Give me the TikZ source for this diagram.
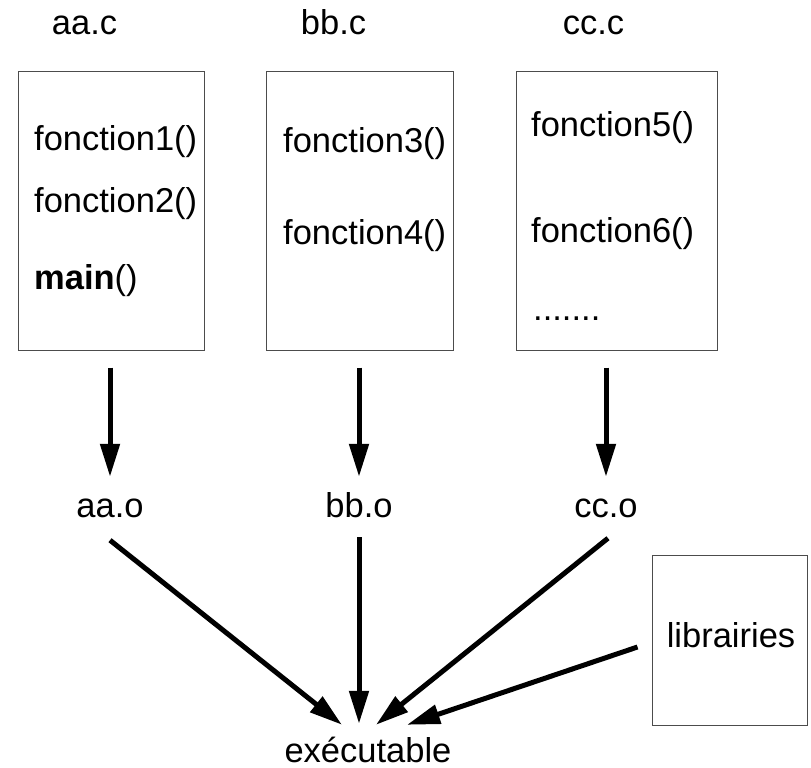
\documentclass[tikz,border=0pt]{standalone}
\usepackage{fontspec}
\setmainfont{Liberation Sans}
\usetikzlibrary{arrows.meta}
\begin{document}
\begin{tikzpicture}[x=1pt,y=-1pt,
 every node/.style={font=\fontsize{34.5}{40}\selectfont, inner sep=0pt},
 src/.style={draw=black!70, line width=1pt, rectangle},
 txt/.style={anchor=base west},
 ttl/.style={anchor=base},
 lbl/.style={anchor=base, text height=24pt, text depth=0pt},
 arr/.style={line width=5pt, -{Triangle[length=33pt,width=19pt]}}]
\useasboundingbox (0,0) rectangle (811,768);
% source boxes
\node[src, minimum width=186pt, minimum height=278pt] (boxA) at (111,211) {};
\node[src, minimum width=187pt, minimum height=278pt] (boxB) at (360,211) {};
\node[src, minimum width=201pt, minimum height=278pt] (boxC) at (616.5,211) {};
\node[src, minimum width=155pt, minimum height=170pt] (lib) at (729.5,640) {};
% titles
\node[ttl] (aac) at (84.5,35) {aa.c};
\node[ttl] (bbc) at (333.5,35) {bb.c};
\node[ttl] (ccc) at (593.5,35) {cc.c};
% contents
\node[txt] (f1) at (34,150) {fonction1()};
\node[txt] (f2) at (34,212) {fonction2()};
\node[txt] (fm) at (34,289) {\textbf{main}()};
\node[txt] (f3) at (283,152) {fonction3()};
\node[txt] (f4) at (283,244) {fonction4()};
\node[txt] (f5) at (531,136) {fonction5()};
\node[txt] (f6) at (531,242) {fonction6()};
\node[txt] (fd) at (533,320) {.......};
\node[ttl] (libtxt) at (731,647) {librairies};
% objects
\node[lbl] (aao) at (110,517) {aa.o};
\node[lbl] (bbo) at (359,517) {bb.o};
\node[lbl] (cco) at (606,517) {cc.o};
\node[lbl] (exe) at (368,762) {exécutable};
% compile arrows
\draw[arr, shorten <=17pt] (boxA.south -| aao.north) -- ([yshift=16pt]aao.north);
\draw[arr, shorten <=17pt] (boxB.south -| bbo.north) -- ([yshift=16pt]bbo.north);
\draw[arr, shorten <=17pt] (boxC.south -| cco.north) -- ([yshift=16pt]cco.north);
% link arrows
\draw[arr] ([yshift=-23pt]aao.south) -- ([xshift=-26pt,yshift=13pt]exe.north);
\draw[arr] ([yshift=-20pt]bbo.south) -- ([xshift=-9pt,yshift=14pt]exe.north);
\draw[arr] ([xshift=2pt,yshift=-21pt]cco.south) -- ([xshift=8pt,yshift=13pt]exe.north);
\draw[arr] ([xshift=-14pt,yshift=-7pt]lib.west) -- ([xshift=39pt,yshift=13pt]exe.north);
\end{tikzpicture}
\end{document}
